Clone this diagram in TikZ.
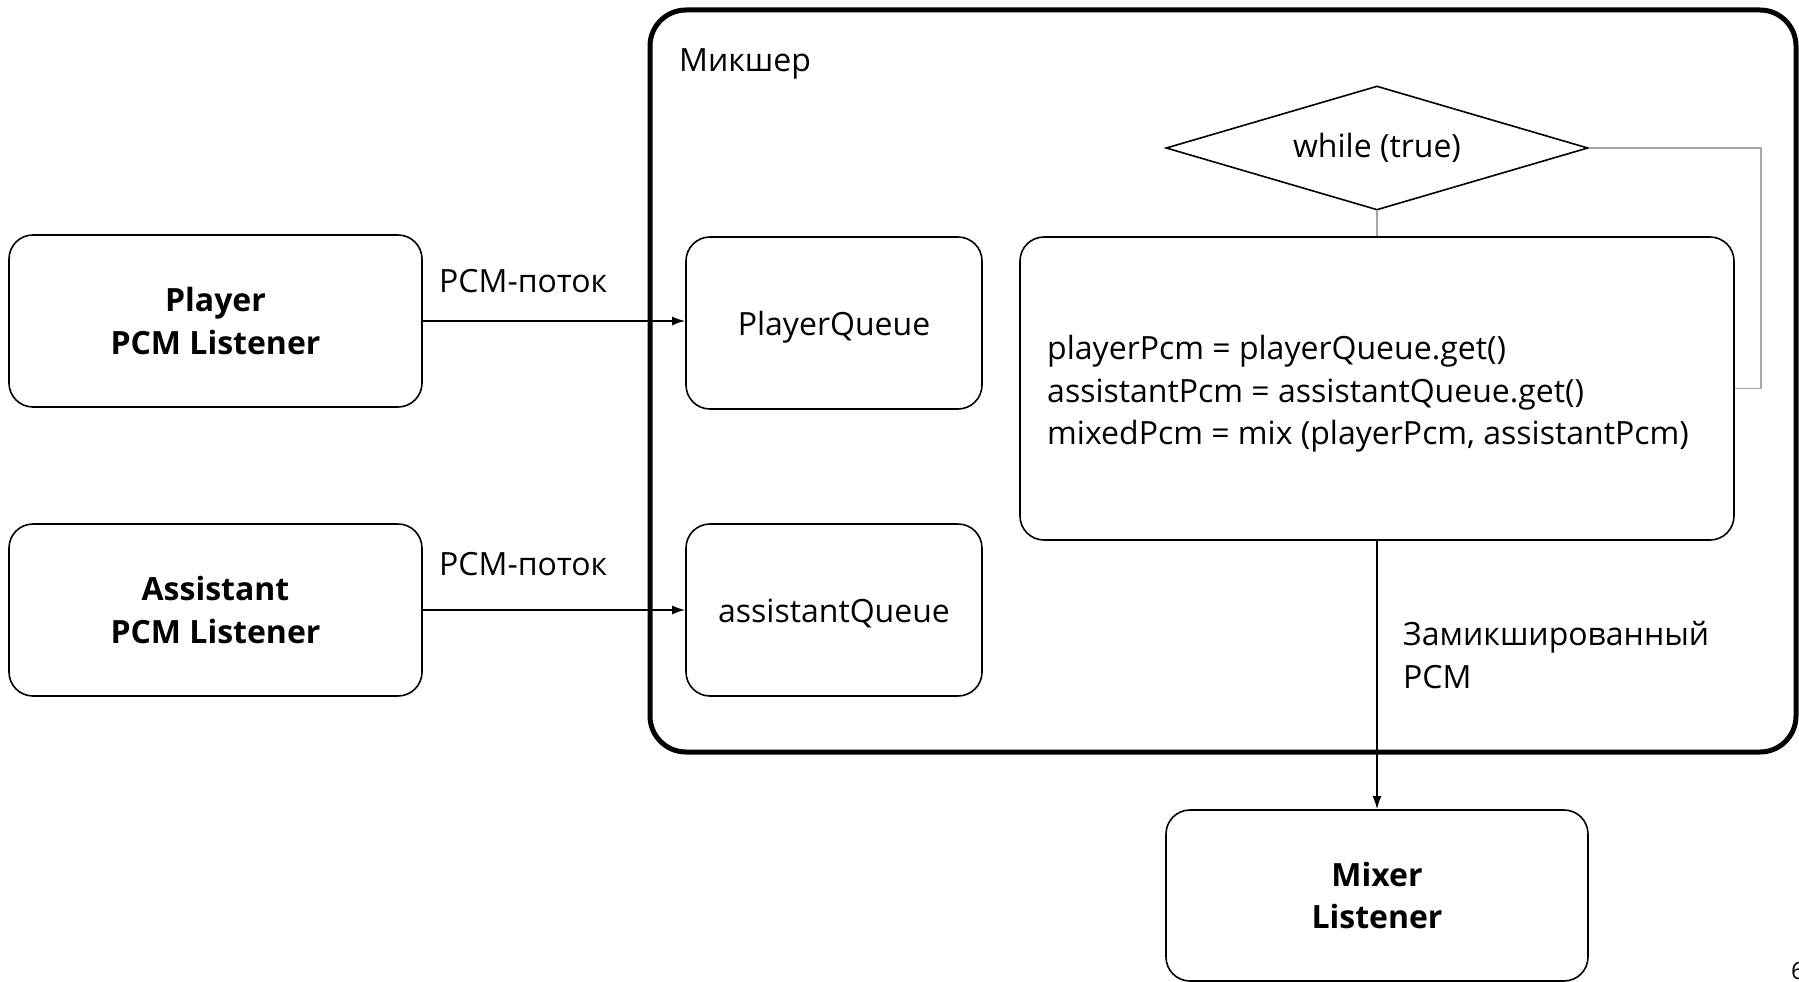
\documentclass[tikz,border=0pt]{standalone}
\usepackage{fontspec}
\setmainfont{Open Sans}
\usetikzlibrary{shapes.geometric,arrows.meta,calc}
\begin{document}
\begin{tikzpicture}[x=1pt,y=-1pt,
  every node/.style={font=\fontsize{32}{42.5}\selectfont},
  box/.style={draw,line width=1.6pt,rounded corners=24pt,inner sep=0pt},
  heavy/.style={draw,line width=5pt,rounded corners=36pt},
  lbl/.style={anchor=west,inner sep=0pt,align=left},
  boldtxt/.style={align=center,font=\fontsize{32}{42.5}\selectfont\bfseries},
  flow/.style={line width=1.6pt,-{Latex[length=13pt,width=9pt]}},
  loopline/.style={line width=1.6pt,draw=black!35}]
\useasboundingbox (0,0) rectangle (1799,982);

% mixer frame
\node[heavy,minimum width=1146pt,minimum height=742pt,inner sep=0pt] (mx) at (1223,381) {};
\node[lbl] (mxt) at (679,64) {Микшер};

% sources
\node[box,boldtxt,minimum width=413pt,minimum height=172pt] (pl) at (215.5,321) {Player\\PCM Listener};
\node[box,boldtxt,minimum width=413pt,minimum height=172pt] (al) at (215.5,610) {Assistant\\PCM Listener};

% queues
\node[box,minimum width=296pt,minimum height=172pt] (pq) at (834,323) {};
\node (pqt) at (834,327) {PlayerQueue};
\node[box,minimum width=296pt,minimum height=172pt] (aq) at (834,610) {};
\node (aqt) at (834,613) {assistantQueue};

% loop
\node[draw,diamond,line width=1.6pt,minimum width=422pt,minimum height=124pt,aspect=3.4,inner sep=0pt] (wh) at (1377,148) {while (true)};
\node[box,minimum width=714pt,minimum height=303pt] (code) at (1377,388.5) {};
\node[lbl] (codet) at (1047,394) {playerPcm = playerQueue.get()\\assistantPcm = assistantQueue.get()\\mixedPcm = mix (playerPcm, assistantPcm)};
\coordinate (lp) at (1761,388.5);

% output
\node[box,boldtxt,minimum width=422pt,minimum height=171pt] (ml) at (1377,895.5) {Mixer\\Listener};

% connectors
\draw[flow] (pl.east) -- (pq.west |- pl.east);
\draw[flow] (al.east) -- (aq.west);
\node[lbl] (t1) at (439,281) {PCM-поток};
\node[lbl] (t2) at (439,564) {PCM-поток};
\draw[loopline] (wh.south) -- (code.north);
\draw[loopline] (wh.east) -| (lp) -- (code.east);
\draw[flow] (code.south) -- (ml.north);
\node[lbl] (t3) at (1403,655) {Замикшированный\\PCM};

% page number
\node[anchor=north west,inner sep=0pt,font=\fontsize{24}{24}\selectfont] (pg) at (1791,962) {6};
\end{tikzpicture}
\end{document}
